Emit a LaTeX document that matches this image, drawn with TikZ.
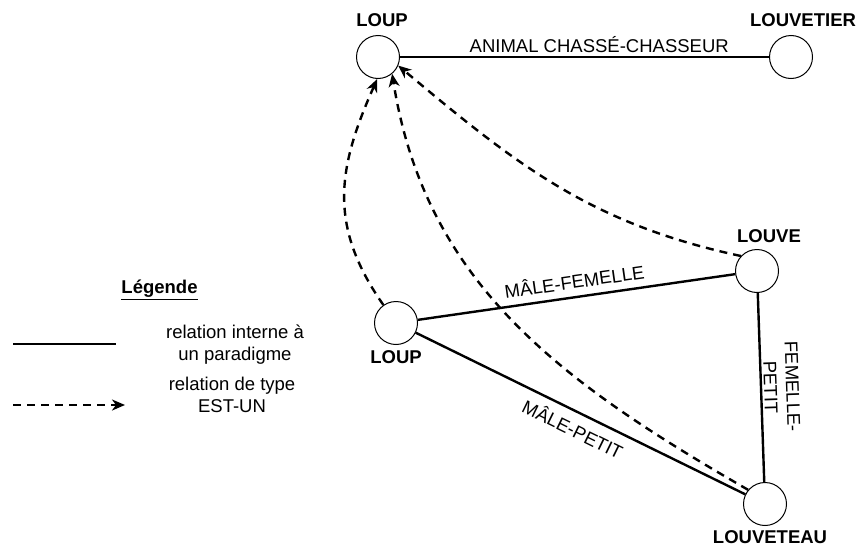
\documentclass[tikz,border=0pt]{standalone}
\usepackage{fontspec}
\setmainfont{Liberation Sans}
\usetikzlibrary{arrows.meta}

\begin{document}
\begin{tikzpicture}[x=1pt,y=1pt,
  font=\fontsize{18.5}{22}\selectfont,
  sommet/.style={circle,draw,line width=1pt,minimum size=43pt,inner sep=0pt},
  nom/.style={font=\fontsize{18.5}{22}\selectfont\bfseries,inner sep=2pt},
  rel/.style={line width=2.4pt},
  isa/.style={line width=2.4pt,dash pattern=on 8pt off 6pt,
    -{Stealth[length=13pt,width=11pt,inset=4pt]}}]
\useasboundingbox (0,0) rectangle (858,-546);

% les sommets
\node[sommet,label={[nom,xshift=4pt,label distance=6.5pt]above:LOUP}] (loup) at (378,-57) {};
\node[sommet,label={[nom,xshift=12pt,label distance=6.5pt]above:LOUVETIER}] (louvetier) at (791,-57) {};
\node[sommet,label={[nom,xshift=12pt,label distance=4.5pt]above:LOUVE}] (louve) at (757,-271) {};
\node[sommet,label={[nom,label distance=3.5pt]below:LOUP}] (loupm) at (396,-323) {};
\node[sommet,label={[nom,xshift=5pt,label distance=2.5pt]below:LOUVETEAU}] (louveteau) at (765,-504) {};

% relations internes
\draw[rel] (loup) -- node[pos=0.54,above] {ANIMAL CHASSÉ-CHASSEUR} (louvetier);
\draw[rel] (loupm) -- node[midway,above=4pt,sloped] {MÂLE-FEMELLE} (louve);
\draw[rel] (loupm) -- node[midway,below=4pt,sloped] {MÂLE-PETIT} (louveteau);
\draw[rel] (louve) -- node[midway,above=0pt,sloped,inner sep=2pt,align=center] {FEMELLE-\\PETIT} (louveteau);

% relations EST-UN
\draw[isa] (loupm.125) to[out=125,in=-114,looseness=1.1] (loup.-92);
\draw[isa] (louveteau.140) to[out=150,in=-81] (loup.-50);
\draw[isa] (louve.137) to[out=168,in=-40] (loup.-23);

% legende
\node[nom] (legende) at (159.5,-290) {\underline{Légende}};
\coordinate (s1) at (13,-344);
\coordinate (s2) at (116,-344);
\draw[rel] (s1) -- (s2);
\node[align=center] (txt1) at (235,-345) {relation interne à\\un paradigme};
\coordinate (d1) at (13,-405);
\coordinate (d2) at (125,-405);
\draw[isa] (d1) -- (d2);
\node[align=center] (txt2) at (232,-395) {relation de type\\EST-UN};
\end{tikzpicture}
\end{document}
